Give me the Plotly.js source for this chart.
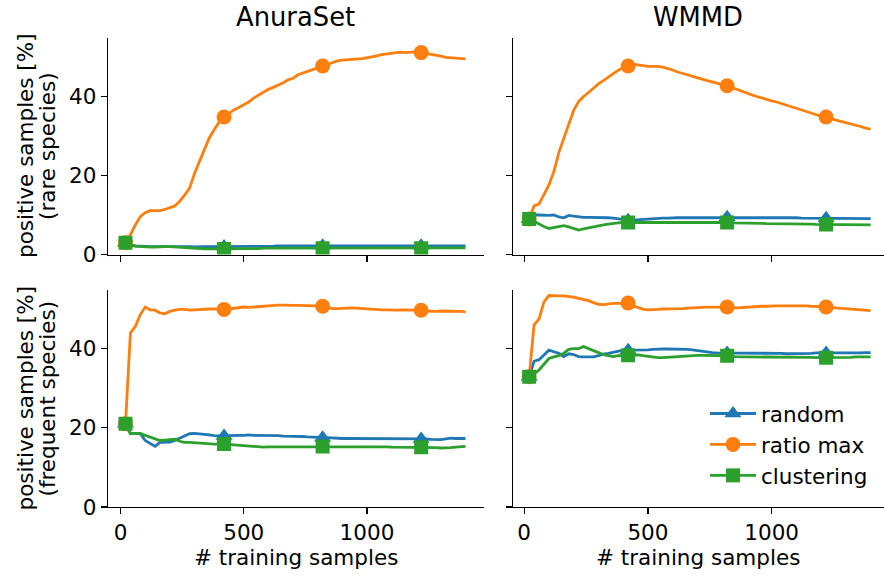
<!DOCTYPE html>
<html>
<head>
<meta charset="utf-8">
<script src="https://cdn.plot.ly/plotly-3.0.1.min.js"></script>
<style>html,body{margin:0;padding:0;background:#fff;}#chart{width:884px;height:576px;}</style>
</head>
<body>
<div id="chart"></div>
<script>
// ---- data ----
const xSamples = [
  20, 40, 60, 80, 100, 120, 140, 160, 180, 200,
  220, 240, 260, 280, 300, 320, 340, 360, 380, 400,
  420, 440, 460, 480, 500, 520, 540, 560, 580, 600,
  620, 640, 660, 680, 700, 720, 740, 760, 780, 800,
  820, 840, 860, 880, 900, 920, 940, 960, 980, 1000,
  1020, 1040, 1060, 1080, 1100, 1120, 1140, 1160, 1180, 1200,
  1220, 1240, 1260, 1280, 1300, 1320, 1340, 1360, 1380, 1400
];
const seriesNames = ["random", "ratio max", "clustering"];
const datasetNames = ["AnuraSet", "WMMD"];
const rowLabels = ["(rare species)", "(frequent species)"];
const xTickVals = [0, 500, 1000];
const yTickVals = [0, 20, 40];

// AnuraSet, rare species
const anuraRareRandom = [
  3.0, 2.4, 2.2, 2.1, 2.0, 2.0, 2.0, 2.0, 2.0, 2.0,
  2.1, 2.1, 2.0, 2.0, 1.9, 2.0, 2.0, 2.0, 2.0, 2.0,
  2.0, 2.0, 2.0, 2.0, 2.0, 2.1, 2.1, 2.1, 2.1, 2.1,
  2.1, 2.2, 2.2, 2.2, 2.2, 2.2, 2.2, 2.2, 2.2, 2.2,
  2.2, 2.2, 2.1, 2.1, 2.1, 2.1, 2.1, 2.1, 2.1, 2.1,
  2.1, 2.1, 2.1, 2.1, 2.1, 2.1, 2.2, 2.2, 2.2, 2.2,
  2.2, 2.2, 2.2, 2.2, 2.2, 2.2, 2.2, 2.2, 2.2, 2.2
];
const anuraRareRatio = [
  3.0, 5.0, 7.5, 9.6, 10.6, 11.1, 11.1, 11.1, 11.4, 11.8,
  12.3, 13.5, 15.0, 16.8, 20.5, 23.5, 26.5, 29.5, 31.6, 33.5,
  34.8, 35.8, 36.6, 37.2, 37.9, 38.6, 39.6, 40.4, 41.1, 41.8,
  42.3, 42.8, 43.5, 44.2, 44.6, 45.5, 46.0, 46.3, 46.8, 47.2,
  47.7, 48.2, 48.7, 49.0, 49.2, 49.3, 49.4, 49.4, 49.6, 49.8,
  50.0, 50.3, 50.6, 50.8, 51.0, 51.1, 51.2, 51.1, 51.2, 51.3,
  51.1, 50.9, 50.6, 50.4, 50.2, 49.9, 49.8, 49.8, 49.7, 49.5
];
const anuraRareCluster = [
  3.0, 2.3, 2.1, 2.0, 2.0, 1.9, 1.9, 2.0, 2.0, 2.0,
  1.9, 1.8, 1.7, 1.6, 1.5, 1.5, 1.4, 1.4, 1.4, 1.4,
  1.4, 1.4, 1.4, 1.5, 1.5, 1.5, 1.5, 1.5, 1.6, 1.6,
  1.6, 1.6, 1.6, 1.6, 1.6, 1.6, 1.6, 1.6, 1.6, 1.6,
  1.6, 1.6, 1.6, 1.6, 1.6, 1.6, 1.6, 1.6, 1.6, 1.6,
  1.6, 1.6, 1.6, 1.6, 1.6, 1.6, 1.6, 1.6, 1.6, 1.6,
  1.6, 1.6, 1.6, 1.6, 1.6, 1.6, 1.7, 1.7, 1.7, 1.7
];

// WMMD, rare species
const wmmdRareRandom = [
  9.0, 10.0, 10.0, 9.9, 9.9, 10.0, 9.5, 9.3, 9.9, 9.7,
  9.5, 9.4, 9.4, 9.4, 9.4, 9.3, 9.3, 9.2, 9.0, 8.8,
  8.7, 8.7, 8.8, 8.9, 9.0, 9.1, 9.2, 9.2, 9.2, 9.3,
  9.3, 9.3, 9.3, 9.4, 9.4, 9.4, 9.4, 9.4, 9.4, 9.4,
  9.4, 9.4, 9.4, 9.4, 9.4, 9.4, 9.4, 9.3, 9.3, 9.3,
  9.3, 9.3, 9.3, 9.3, 9.3, 9.2, 9.2, 9.2, 9.2, 9.2,
  9.2, 9.2, 9.2, 9.1, 9.1, 9.1, 9.1, 9.1, 9.1, 9.1
];
const wmmdRareRatio = [
  9.0, 12.3, 12.8, 15.3, 17.6, 21.0, 25.8, 29.4, 33.2, 36.5,
  38.7, 40.0, 41.0, 42.2, 43.2, 44.0, 45.0, 45.8, 46.6, 47.3,
  47.7, 48.1, 48.0, 47.8, 47.6, 47.6, 47.6, 47.4, 47.1, 46.7,
  46.2, 45.9, 45.5, 45.1, 44.7, 44.3, 44.0, 43.7, 43.3, 43.0,
  42.7, 42.2, 41.7, 41.2, 40.8, 40.4, 40.0, 39.6, 39.3, 38.9,
  38.6, 38.2, 37.8, 37.4, 37.0, 36.5, 36.1, 35.7, 35.3, 35.0,
  34.8, 34.3, 34.0, 33.7, 33.4, 33.1, 32.7, 32.4, 32.0, 31.7
];
const wmmdRareCluster = [
  9.0, 8.3, 7.7, 7.1, 6.6, 6.8, 7.0, 7.3, 7.0, 6.6,
  6.2, 6.5, 6.8, 7.0, 7.2, 7.5, 7.7, 7.9, 8.0, 8.1,
  8.1, 8.2, 8.2, 8.2, 8.2, 8.1, 8.1, 8.1, 8.1, 8.1,
  8.1, 8.1, 8.1, 8.1, 8.1, 8.1, 8.1, 8.1, 8.1, 8.1,
  8.1, 8.0, 8.0, 8.0, 7.9, 7.9, 7.9, 7.9, 7.8, 7.8,
  7.8, 7.8, 7.8, 7.7, 7.7, 7.7, 7.7, 7.7, 7.6, 7.6,
  7.6, 7.6, 7.6, 7.6, 7.5, 7.5, 7.5, 7.5, 7.5, 7.5
];

// AnuraSet, frequent species
const anuraFreqRandom = [
  21.0, 18.6, 18.6, 18.5, 16.8, 16.0, 15.3, 16.3, 16.4, 16.4,
  16.8, 17.4, 18.1, 18.5, 18.6, 18.5, 18.4, 18.2, 18.0, 17.9,
  17.9, 18.0, 18.1, 18.1, 18.1, 18.2, 18.1, 18.1, 18.0, 18.0,
  18.0, 18.0, 17.9, 17.9, 17.9, 17.8, 17.8, 17.7, 17.6, 17.6,
  17.5, 17.5, 17.4, 17.4, 17.3, 17.3, 17.3, 17.3, 17.2, 17.2,
  17.2, 17.2, 17.2, 17.2, 17.2, 17.2, 17.2, 17.2, 17.2, 17.2,
  17.2, 17.2, 17.1, 17.0, 17.0, 17.2, 17.4, 17.3, 17.3, 17.3
];
const anuraFreqRatio = [
  21.0, 44.0, 45.6, 48.6, 50.5, 49.8, 49.7, 49.0, 48.8, 49.4,
  49.7, 49.9, 49.9, 49.7, 49.8, 49.9, 49.9, 50.0, 50.0, 49.9,
  49.9, 50.0, 50.2, 50.4, 50.5, 50.4, 50.5, 50.6, 50.8, 50.9,
  50.9, 51.0, 51.0, 50.9, 50.9, 50.9, 50.9, 50.9, 50.8, 50.8,
  50.7, 50.4, 50.1, 50.1, 50.2, 50.2, 50.3, 50.2, 50.1, 50.0,
  49.9, 49.9, 49.8, 49.8, 49.7, 49.7, 49.8, 49.8, 49.8, 49.8,
  49.7, 49.5, 49.4, 49.4, 49.5, 49.5, 49.5, 49.5, 49.4, 49.3
];
const anuraFreqCluster = [
  21.0, 18.5, 18.6, 18.6, 18.1, 17.6, 17.2, 16.8, 16.9, 17.0,
  17.1, 16.6, 16.3, 16.3, 16.2, 16.1, 16.0, 16.0, 15.9, 15.9,
  15.9, 15.8, 15.7, 15.6, 15.5, 15.4, 15.3, 15.2, 15.1, 15.2,
  15.2, 15.3, 15.3, 15.3, 15.3, 15.3, 15.3, 15.3, 15.3, 15.3,
  15.3, 15.3, 15.3, 15.3, 15.3, 15.3, 15.3, 15.3, 15.3, 15.3,
  15.2, 15.2, 15.2, 15.2, 15.1, 15.1, 15.1, 15.1, 15.1, 15.1,
  15.1, 15.1, 15.0, 15.0, 14.9, 14.9, 15.0, 15.1, 15.2, 15.3
];

// WMMD, frequent species
const wmmdFreqRandom = [
  32.9, 36.8, 37.2, 38.5, 39.6, 39.2, 38.8, 38.0, 38.7, 38.5,
  38.0, 37.9, 37.9, 37.9, 38.2, 38.6, 38.8, 39.1, 39.4, 39.6,
  39.6, 39.6, 39.6, 39.7, 39.7, 39.8, 39.9, 39.9, 39.9, 39.9,
  39.9, 39.8, 39.8, 39.7, 39.5, 39.3, 39.1, 39.0, 38.9, 38.9,
  38.9, 38.9, 38.9, 38.9, 38.8, 38.8, 38.8, 38.8, 38.8, 38.8,
  38.8, 38.8, 38.7, 38.7, 38.7, 38.7, 38.8, 38.8, 38.9, 38.9,
  38.9, 38.9, 38.9, 38.8, 38.8, 38.8, 38.9, 38.9, 39.0, 39.0
];
const wmmdFreqRatio = [
  32.9, 46.0, 47.5, 51.8, 53.4, 53.3, 53.3, 53.3, 53.2, 53.0,
  52.7, 52.4, 52.1, 51.6, 51.2, 51.1, 51.3, 51.4, 51.4, 51.5,
  51.5, 50.8, 50.3, 50.0, 49.8, 49.8, 49.9, 50.0, 50.0, 50.0,
  50.0, 50.1, 50.2, 50.3, 50.4, 50.5, 50.5, 50.5, 50.5, 50.5,
  50.5, 50.4, 50.3, 50.4, 50.5, 50.6, 50.6, 50.7, 50.7, 50.8,
  50.8, 50.8, 50.8, 50.9, 50.9, 50.8, 50.8, 50.7, 50.7, 50.6,
  50.5, 50.4, 50.3, 50.2, 50.1, 50.0, 49.9, 49.8, 49.7, 49.6
];
const wmmdFreqCluster = [
  32.9, 33.6, 34.6, 36.0, 37.5, 37.9, 38.2, 38.8, 39.8, 40.0,
  40.0, 40.5, 40.0, 39.3, 38.9, 38.5, 38.2, 38.0, 38.2, 38.3,
  38.3, 38.3, 38.4, 38.2, 38.0, 37.8, 37.7, 37.7, 37.8, 37.9,
  38.0, 38.1, 38.2, 38.2, 38.3, 38.3, 38.3, 38.3, 38.3, 38.3,
  38.2, 38.0, 37.9, 37.9, 37.9, 37.9, 37.9, 37.9, 37.9, 37.9,
  37.9, 37.9, 37.9, 37.9, 37.9, 37.8, 37.8, 37.8, 37.7, 37.7,
  37.7, 37.7, 37.8, 37.8, 37.8, 37.8, 37.9, 37.9, 37.9, 37.9
];

// ---- styling ----
const colors = ["#1f77b4", "#ff7f0e", "#2ca02c"];
const symbols = ["triangle-up", "circle", "square"];
const symSize = [15, 15, 14];
const markEvery = 20;
const FONT = "DejaVu Sans";
const W = 884, H = 576;

const panels = [
  {xa: "x",  ya: "y",  series: [anuraRareRandom, anuraRareRatio, anuraRareCluster]},
  {xa: "x2", ya: "y2", series: [wmmdRareRandom, wmmdRareRatio, wmmdRareCluster]},
  {xa: "x3", ya: "y3", series: [anuraFreqRandom, anuraFreqRatio, anuraFreqCluster]},
  {xa: "x4", ya: "y4", series: [wmmdFreqRandom, wmmdFreqRatio, wmmdFreqCluster]}
];

const traces = [];
panels.forEach(p => {
  p.series.forEach((ys, k) => {
    traces.push({
      type: "scatter", mode: "lines+markers",
      x: xSamples, y: ys, xaxis: p.xa, yaxis: p.ya,
      name: seriesNames[k], showlegend: false,
      line: {color: colors[k], width: 2.8},
      marker: {color: colors[k], symbol: symbols[k], opacity: 1,
               size: ys.map((_, i) => (i % markEvery === 0 ? symSize[k] : 0)),
               line: {width: 0}},
      hoverinfo: "skip"
    });
  });
});
// legend entries
seriesNames.forEach((n, k) => {
  traces.push({
    type: "scatter", mode: "lines+markers", x: [null], y: [null],
    xaxis: "x4", yaxis: "y4", name: n, showlegend: true,
    line: {color: colors[k], width: 2.8},
    marker: {color: colors[k], symbol: symbols[k], size: symSize[k], opacity: 1}
  });
});

function px(v) { return v / W; }
function py(v) { return 1 - v / H; }

const axBase = {
  showline: true, linecolor: "black", linewidth: 1.3,
  ticks: "outside", ticklen: 6, tickwidth: 1.3, tickcolor: "black",
  showgrid: false, zeroline: false, fixedrange: true,
  tickfont: {family: FONT, size: 21.5, color: "black"}
};
const leftDom = [px(108), px(483.5)];
const rightDom = [px(513.3), 1];
const topDom = [py(254.5), py(38)];
const botDom = [py(507), py(290)];
const xRangeL = [-51, 1473];
const xRangeR = [-44, 1454];
const yRange = [0, 54.8];

const layout = {
  width: W, height: H,
  margin: {l: 0, r: 0, t: 0, b: 0},
  paper_bgcolor: "white", plot_bgcolor: "white",
  font: {family: FONT, size: 21.5, color: "black"},
  showlegend: true,
  legend: {x: px(705), y: py(393), xanchor: "left", yanchor: "top",
           itemwidth: 46,
           bgcolor: "rgba(0,0,0,0)", font: {family: FONT, size: 21.5, color: "black"},
           tracegroupgap: 0},
  xaxis:  Object.assign({}, axBase, {domain: leftDom,  anchor: "y",  range: xRangeL, tickvals: xTickVals, showticklabels: false}),
  yaxis:  Object.assign({}, axBase, {domain: topDom,   anchor: "x",  range: yRange, tickvals: yTickVals}),
  xaxis2: Object.assign({}, axBase, {domain: rightDom, anchor: "y2", range: xRangeR, tickvals: xTickVals, showticklabels: false}),
  yaxis2: Object.assign({}, axBase, {domain: topDom,   anchor: "x2", range: yRange, tickvals: yTickVals, showticklabels: false}),
  xaxis3: Object.assign({}, axBase, {domain: leftDom,  anchor: "y3", range: xRangeL, tickvals: xTickVals}),
  yaxis3: Object.assign({}, axBase, {domain: botDom,   anchor: "x3", range: yRange, tickvals: yTickVals}),
  xaxis4: Object.assign({}, axBase, {domain: rightDom, anchor: "y4", range: xRangeR, tickvals: xTickVals}),
  yaxis4: Object.assign({}, axBase, {domain: botDom,   anchor: "x4", range: yRange, tickvals: yTickVals, showticklabels: false}),
  annotations: [
    {text: datasetNames[0], xref: "paper", yref: "paper", x: px(295.5), y: py(17), xanchor: "center", yanchor: "middle", showarrow: false, font: {family: FONT, size: 25.8}},
    {text: datasetNames[1], xref: "paper", yref: "paper", x: px(698), y: py(17), xanchor: "center", yanchor: "middle", showarrow: false, font: {family: FONT, size: 25.8}},
    {text: "positive samples [%]", xref: "paper", yref: "paper", x: px(25), y: py(146), xanchor: "center", yanchor: "middle", textangle: -90, showarrow: false},
    {text: rowLabels[0], xref: "paper", yref: "paper", x: px(47), y: py(146), xanchor: "center", yanchor: "middle", textangle: -90, showarrow: false},
    {text: "positive samples [%]", xref: "paper", yref: "paper", x: px(25), y: py(398.5), xanchor: "center", yanchor: "middle", textangle: -90, showarrow: false},
    {text: rowLabels[1], xref: "paper", yref: "paper", x: px(47), y: py(398.5), xanchor: "center", yanchor: "middle", textangle: -90, showarrow: false},
    {text: "# training samples", xref: "paper", yref: "paper", x: px(295.5), y: py(557), xanchor: "center", yanchor: "middle", showarrow: false},
    {text: "# training samples", xref: "paper", yref: "paper", x: px(698), y: py(557), xanchor: "center", yanchor: "middle", showarrow: false}
  ]
};

Plotly.newPlot("chart", traces, layout, {staticPlot: true, displayModeBar: false});
</script>
</body>
</html>
